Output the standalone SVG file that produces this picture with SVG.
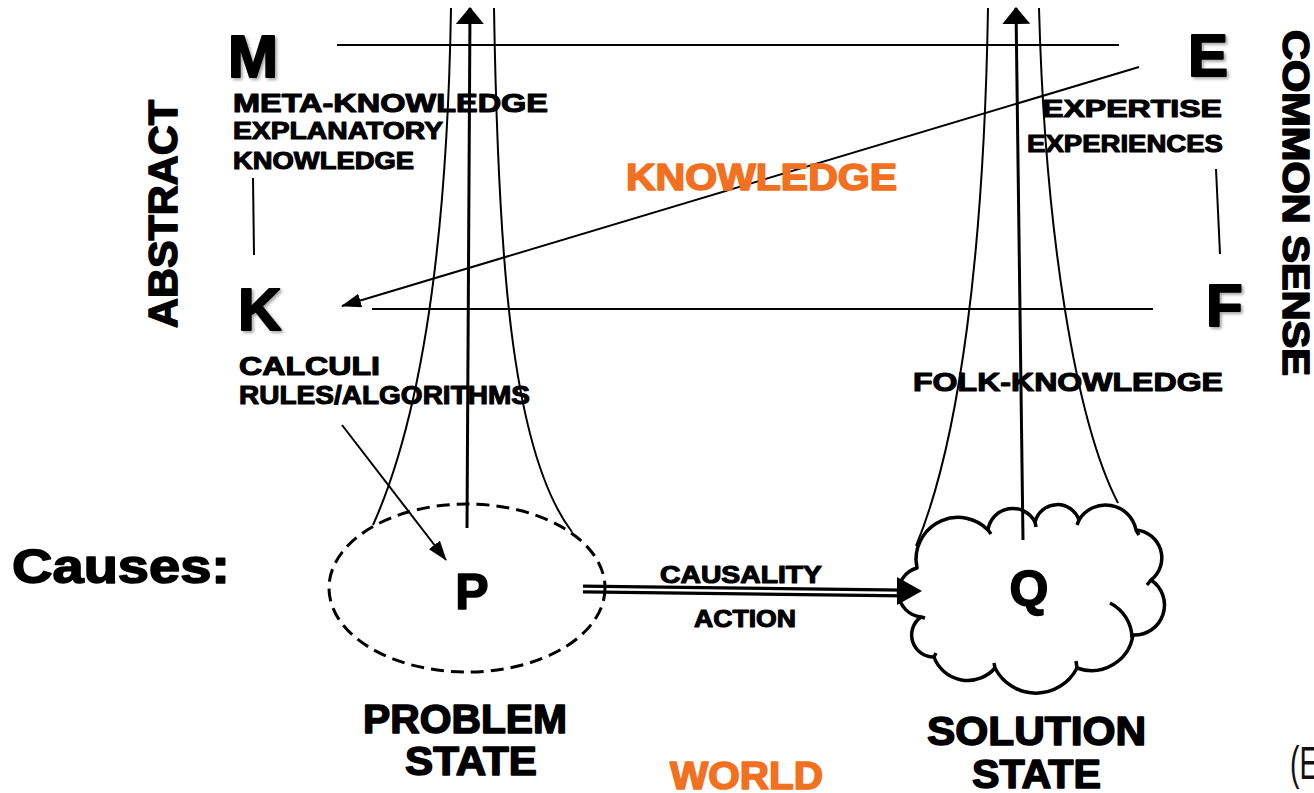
<svg xmlns="http://www.w3.org/2000/svg" width="1314" height="793" viewBox="0 0 1314 793">
<style>
.t{font-family:"Liberation Sans",Arial,sans-serif;font-weight:bold;fill:#000;stroke:#000;stroke-width:1.1px;stroke-linejoin:round}
.o{fill:#F37021;stroke:#F37021}
.big{font-size:60px;stroke-width:2px;filter:url(#sh)}
.h{stroke-width:1.6px}
.ln{stroke:#000;stroke-width:2;fill:none}
.thick{stroke:#000;stroke-width:3;fill:none}
</style>
<defs>
<filter id="sh" x="-20%" y="-20%" width="150%" height="150%">
<feDropShadow dx="2" dy="2" stdDeviation="1.5" flood-color="#000" flood-opacity="0.35"/>
</filter>
<marker id="ah" viewBox="0 0 20 14" refX="19" refY="7" markerWidth="20" markerHeight="14" markerUnits="userSpaceOnUse" orient="auto"><path d="M0,0 L20,7 L0,14 z" fill="#000"/></marker>
<marker id="ahb" viewBox="0 0 17 28" refX="16" refY="14" markerWidth="17" markerHeight="28" markerUnits="userSpaceOnUse" orient="auto"><path d="M0,0 L17,14 L0,28 z" fill="#000"/></marker>
</defs>
<rect width="1314" height="793" fill="#fff"/>

<g id="connectors">
<line class="ln" x1="337" y1="45" x2="1119" y2="45"/>
<line class="ln" x1="372" y1="309" x2="1153" y2="309"/>
<line class="ln" x1="253" y1="178" x2="254" y2="255"/>
<line class="ln" x1="1216" y1="169" x2="1220" y2="254"/>
<line class="ln" x1="1139" y1="67" x2="342" y2="306" marker-end="url(#ah)"/>
<line class="ln" x1="342" y1="425" x2="446" y2="560" marker-end="url(#ah)"/>
<path class="ln" d="M451,8 C447,250 420,420 373,525"/>
<path class="ln" d="M494,8 C498,250 510,450 572,532"/>
<line class="thick" x1="467" y1="528" x2="470" y2="8" marker-end="url(#ahb)"/>
<path class="ln" d="M988,8 C984,250 960,440 916,546"/>
<path class="ln" d="M1039,8 C1045,230 1075,420 1118,503"/>
<line class="thick" x1="1023" y1="540" x2="1016" y2="8" marker-end="url(#ahb)"/>
<line x1="583" y1="589" x2="905" y2="593" stroke="#000" stroke-width="9"/>
<line x1="583" y1="589" x2="905" y2="593" stroke="#fff" stroke-width="2.5"/>
<path d="M922,591 L897,577 L897,605 z" fill="#000"/>
</g>

<g id="node-P">
<ellipse cx="467" cy="588" rx="138" ry="84" fill="none" stroke="#000" stroke-width="3" stroke-dasharray="13,7"/>
<text class="t h" x="472" y="609" font-size="50" text-anchor="middle">P</text>
</g>

<g id="node-Q">
<path d="M916,560 A42,42 0 0 1 988,530 A25,25 0 0 1 1035,522 A23,23 0 0 1 1079,520 A31,31 0 0 1 1136,530 A28,28 0 0 1 1151,580 A30,30 0 0 1 1133,635 A42,42 0 0 1 1077,668 A46,46 0 0 1 995,668 A36,36 0 0 1 934,657 A22,22 0 0 1 921,617 A25,25 0 0 1 917,568 Z" fill="none" stroke="#000" stroke-width="3.5" stroke-linejoin="round"/>
<path d="M1110,603 A40,40 0 0 1 1132,638 M988,530 L991,534 M1035,522 L1036,527 M1079,520 L1077,525 M1136,530 L1139,535 M1151,580 L1147,585 M1077,668 L1076,661 M995,668 L994,663 M934,657 L936,653 M921,617 L925,618" fill="none" stroke="#000" stroke-width="3.5"/>
<text class="t h" x="1029" y="606" font-size="50" text-anchor="middle">Q</text>
</g>

<g id="node-M">
<text class="t big" x="228" y="77">M</text>
<text class="t" x="233" y="112" font-size="26" textLength="315" lengthAdjust="spacingAndGlyphs">META-KNOWLEDGE</text>
<text class="t" x="233" y="139" font-size="24" textLength="210" lengthAdjust="spacingAndGlyphs">EXPLANATORY</text>
<text class="t" x="233" y="169" font-size="24" textLength="181" lengthAdjust="spacingAndGlyphs">KNOWLEDGE</text>
</g>

<g id="node-E">
<text class="t big" x="1188" y="76">E</text>
<text class="t" x="1042" y="117" font-size="24" textLength="180" lengthAdjust="spacingAndGlyphs">EXPERTISE</text>
<text class="t" x="1027" y="152" font-size="24" textLength="196" lengthAdjust="spacingAndGlyphs">EXPERIENCES</text>
</g>

<g id="node-K">
<text class="t big" x="238" y="330">K</text>
<text class="t" x="239" y="375" font-size="26" textLength="141" lengthAdjust="spacingAndGlyphs">CALCULI</text>
<text class="t" x="239" y="404" font-size="26" textLength="291" lengthAdjust="spacingAndGlyphs">RULES/ALGORITHMS</text>
</g>

<g id="node-F">
<text class="t big" x="1206" y="326">F</text>
<text class="t" x="913" y="391" font-size="26" textLength="310" lengthAdjust="spacingAndGlyphs">FOLK-KNOWLEDGE</text>
</g>

<g id="labels">
<text class="t o h" x="626" y="190" font-size="36" textLength="271" lengthAdjust="spacingAndGlyphs">KNOWLEDGE</text>
<text class="t h" transform="translate(177,214) rotate(-90)" font-size="41" text-anchor="middle" textLength="228" lengthAdjust="spacingAndGlyphs">ABSTRACT</text>
<text class="t h" transform="translate(1283,203) rotate(90)" font-size="36" text-anchor="middle" textLength="346" lengthAdjust="spacingAndGlyphs">COMMON SENSE</text>
<text class="t h" x="12" y="583" font-size="48" textLength="218" lengthAdjust="spacingAndGlyphs">Causes:</text>
<text class="t" x="660" y="583" font-size="23" textLength="162" lengthAdjust="spacingAndGlyphs">CAUSALITY</text>
<text class="t" x="694" y="627" font-size="24" textLength="102" lengthAdjust="spacingAndGlyphs">ACTION</text>
<text class="t h" x="363" y="733" font-size="41" textLength="204" lengthAdjust="spacingAndGlyphs">PROBLEM</text>
<text class="t h" x="405" y="775" font-size="41" textLength="132" lengthAdjust="spacingAndGlyphs">STATE</text>
<text class="t h" x="927" y="745" font-size="41" textLength="219" lengthAdjust="spacingAndGlyphs">SOLUTION</text>
<text class="t h" x="972" y="788" font-size="41" textLength="129" lengthAdjust="spacingAndGlyphs">STATE</text>
<text class="t o h" x="670" y="789" font-size="38" textLength="153" lengthAdjust="spacingAndGlyphs">WORLD</text>
<text transform="translate(1290,779) scale(0.62,1)" font-family="Liberation Sans,Arial,sans-serif" font-size="46" fill="#111">(E</text>
</g>
</svg>
